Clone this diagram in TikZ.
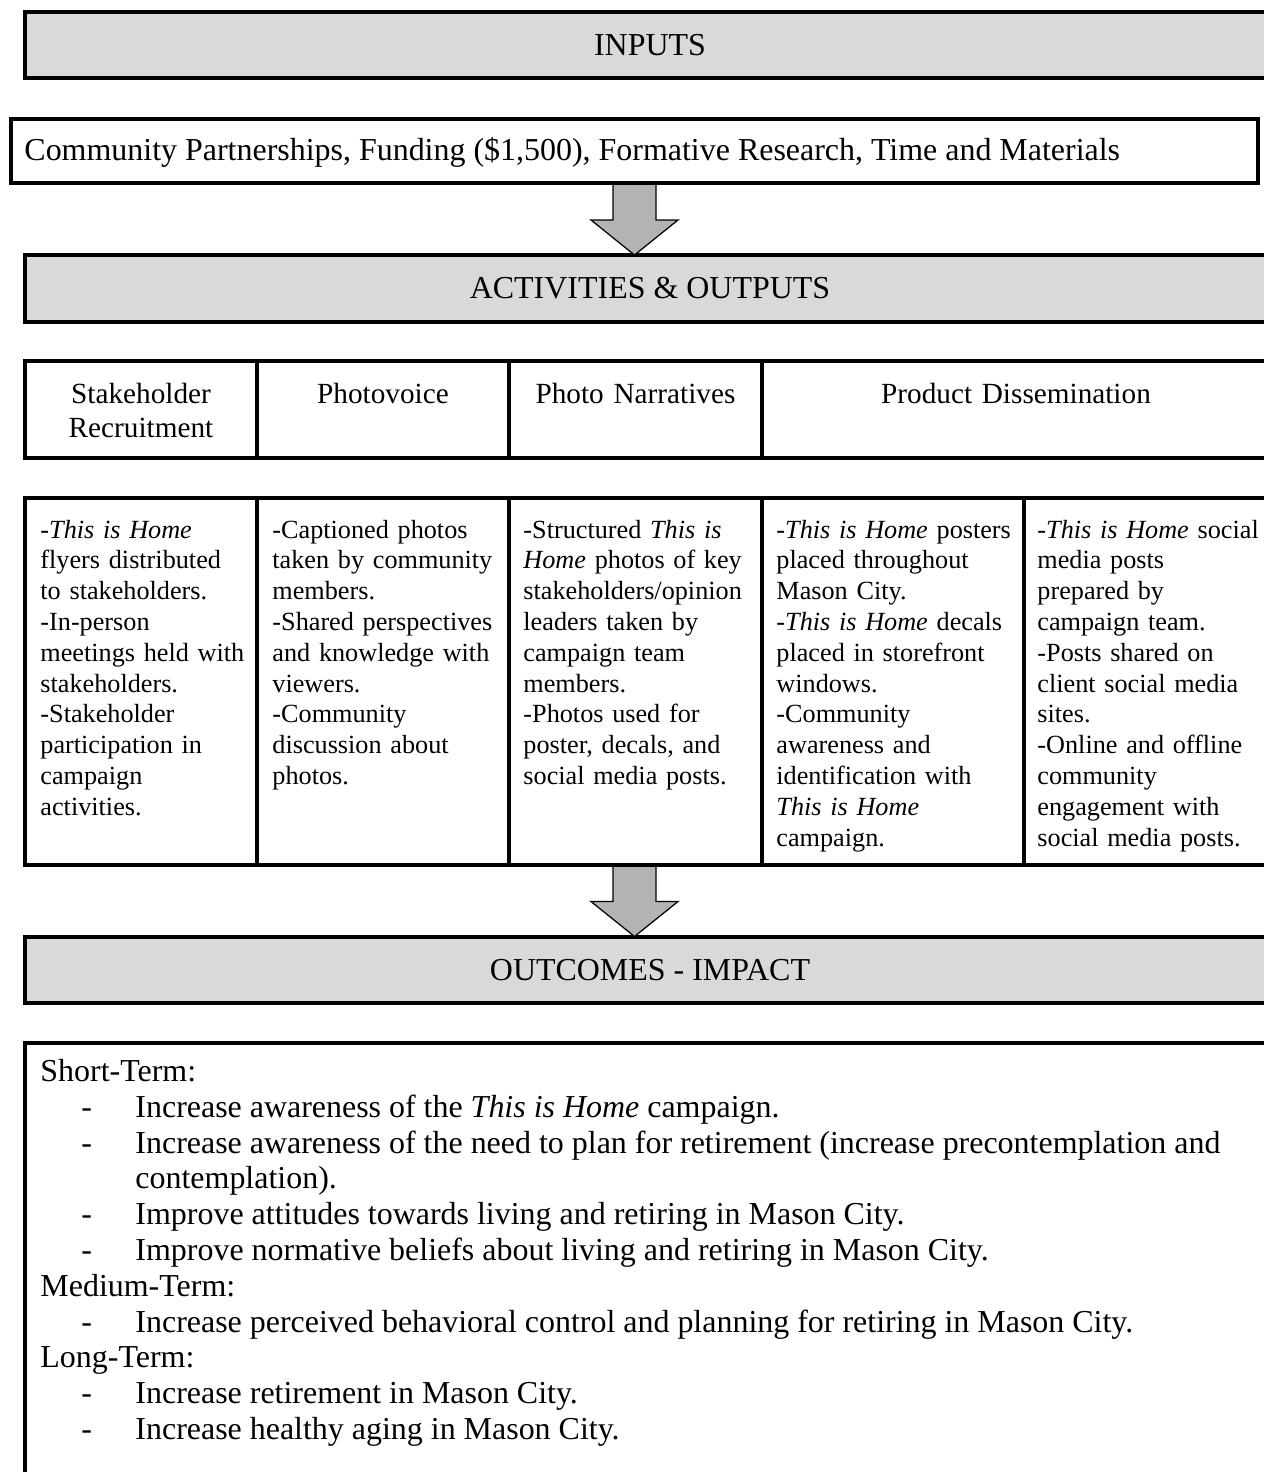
\documentclass[tikz,border=0pt]{standalone}
\usepackage{fontspec}
\setmainfont{Liberation Serif}
\usetikzlibrary{calc}
\definecolor{boxgray}{HTML}{D9D9D9}
\definecolor{arrowgray}{HTML}{B3B3B3}
\newcommand\pxu{0.44444pt}
\newcommand\blockarrow[2]{\draw[barrow] ($(#1)+(-21.5,0)$) -- ($(#2)+(-21.5,-35)$) -- ($(#2)+(-43.5,-35)$) -- (#2) -- ($(#2)+(43.5,-35)$) -- ($(#2)+(21.5,-35)$) -- ($(#1)+(21.5,0)$) -- cycle;}
\tikzset{
  frame/.style={draw=black, line width=1.4pt, rectangle, inner sep=0pt, outer sep=0pt, anchor=north west},
  graybox/.style={frame, fill=boxgray},
  whitebox/.style={frame, fill=white},
  barrow/.style={draw=black, line width=0.55pt, fill=arrowgray, line join=miter},
  divider/.style={draw=black, line width=1.4pt},
  title/.style={inner sep=0pt, anchor=base, font=\fontsize{14.2}{16}\selectfont},
  cell/.style={inner sep=0pt, anchor=base west, align=left, text width=240*\pxu, font=\fontsize{11.65}{13.69}\selectfont},
  head/.style={inner sep=0pt, anchor=base, align=center, text width=480*\pxu, font=\fontsize{13}{15.3}\selectfont},
  outtext/.style={inner sep=0pt, anchor=base west, font=\fontsize{14.2}{15.91}\selectfont},
}
\begin{document}
\begin{tikzpicture}[x=0.44444pt, y=-0.44444pt]
\useasboundingbox (0,0) rectangle (1264,1472);
\clip (0,0) rectangle (1264,1472);
\fill[white] (0,0) rectangle (1264,1472);

% boxes
\node[graybox, minimum width=1300*\pxu, minimum height=66*\pxu] (inbox) at (25,12) {};
\node[whitebox, minimum width=1247*\pxu, minimum height=64*\pxu] (commbox) at (11,119) {};
\node[graybox, minimum width=1300*\pxu, minimum height=67*\pxu] (actbox) at (25,255) {};
\node[whitebox, minimum width=1265*\pxu, minimum height=97*\pxu] (headrow) at (25,361) {};
\node[whitebox, minimum width=1265*\pxu, minimum height=367*\pxu] (detail) at (25,498) {};
\node[graybox, minimum width=1300*\pxu, minimum height=66*\pxu] (outbox) at (25,937) {};
\node[whitebox, minimum width=1300*\pxu, minimum height=500*\pxu] (bottombox) at (25,1043) {};

% dividers
\foreach \xx in {257,509,762} \draw[divider] (\xx,361) -- (\xx,458);
\foreach \xx in {257,509,762,1024} \draw[divider] (\xx,498) -- (\xx,865);

% arrows
\coordinate (a1s) at (634.5,184.2);
\coordinate (a1e) at (634.5,255);
\coordinate (a2s) at (634.5,866.2);
\coordinate (a2e) at (634.5,936.5);
\blockarrow{a1s}{a1e}
\blockarrow{a2s}{a2e}

% titles
\node[title] (tin) at (650,55) {INPUTS};
\node[outtext] (tcomm) at (24,160) {Community Partnerships, Funding (\$1,500), Formative Research, Time and Materials};
\node[title] (tact) at (650,298) {ACTIVITIES \& OUTPUTS};
\node[title] (tout) at (650,980) {OUTCOMES - IMPACT};

% header row
\node[head] (h1) at (141,403) {Stakeholder\\Recruitment};
\node[head] (h2) at (383,403) {Photovoice};
\node[head] (h3) at (635.5,403) {Photo Narratives};
\node[head] (h4) at (1016,403) {Product Dissemination};

% detail cells
\node[cell] (c1) at (40,538) {-\textit{This is Home}\\flyers distributed\\to stakeholders.\\-In-person\\meetings held with\\stakeholders.\\-Stakeholder\\participation in\\campaign\\activities.};
\node[cell] (c2) at (272,538) {-Captioned photos\\taken by community\\members.\\-Shared perspectives\\and knowledge with\\viewers.\\-Community\\discussion about\\photos.};
\node[cell] (c3) at (523,538) {-Structured \textit{This is}\\\textit{Home} photos of key\\stakeholders/opinion\\leaders taken by\\campaign team\\members.\\-Photos used for\\poster, decals, and\\social media posts.};
\node[cell] (c4) at (776,538) {-\textit{This is Home} posters\\placed throughout\\Mason City.\\-\textit{This is Home} decals\\placed in storefront\\windows.\\-Community\\awareness and\\identification with\\\textit{This is Home}\\campaign.};
\node[cell] (c5) at (1037,538) {-\textit{This is Home} social\\media posts\\prepared by\\campaign team.\\-Posts shared on\\client social media\\sites.\\-Online and offline\\community\\engagement with\\social media posts.};

% outcomes text
\node[outtext] (st) at (40,1081.5) {Short-Term:};
\node[outtext] (d1) at (81,1117.3) {-};
\node[outtext] (s1) at (135,1117.3) {Increase awareness of the \textit{This is Home} campaign.};
\node[outtext] (d2) at (81,1153.1) {-};
\node[outtext] (s2) at (135,1153.1) {Increase awareness of the need to plan for retirement (increase precontemplation and};
\node[outtext] (s2b) at (135,1188.9) {contemplation).};
\node[outtext] (d3) at (81,1224.7) {-};
\node[outtext] (s3) at (135,1224.7) {Improve attitudes towards living and retiring in Mason City.};
\node[outtext] (d4) at (81,1260.5) {-};
\node[outtext] (s4) at (135,1260.5) {Improve normative beliefs about living and retiring in Mason City.};
\node[outtext] (mt) at (40,1296.3) {Medium-Term:};
\node[outtext] (d5) at (81,1332.1) {-};
\node[outtext] (m1) at (135,1332.1) {Increase perceived behavioral control and planning for retiring in Mason City.};
\node[outtext] (lt) at (40,1367.9) {Long-Term:};
\node[outtext] (d6) at (81,1403.7) {-};
\node[outtext] (l1) at (135,1403.7) {Increase retirement in Mason City.};
\node[outtext] (d7) at (81,1439.5) {-};
\node[outtext] (l2) at (135,1439.5) {Increase healthy aging in Mason City.};
\end{tikzpicture}
\end{document}
